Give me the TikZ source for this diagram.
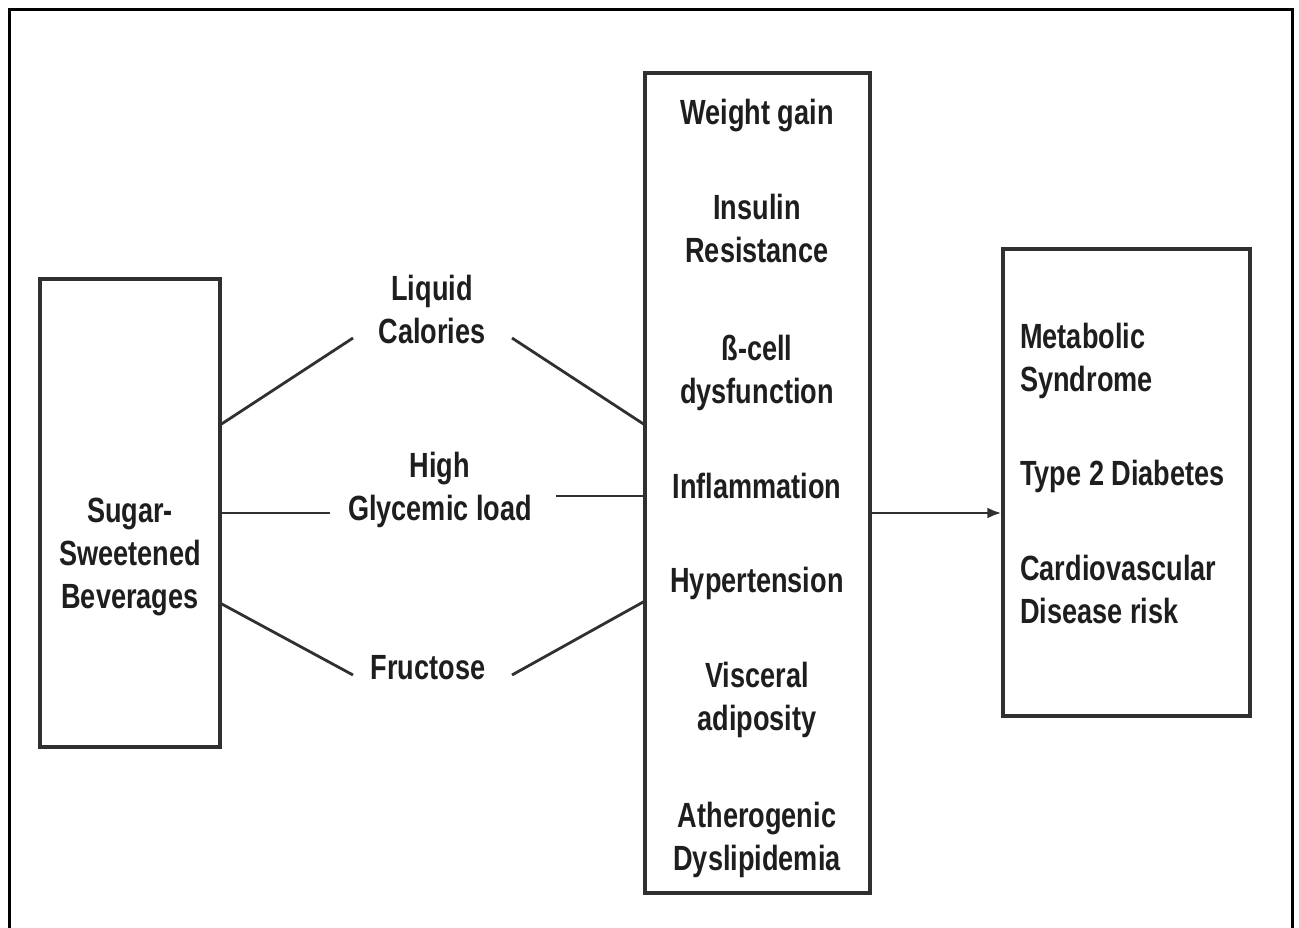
\documentclass[tikz,border=0pt]{standalone}
\usepackage{fontspec}
\setmainfont{Liberation Sans}[FakeStretch=0.775]
\usetikzlibrary{arrows.meta}
\definecolor{ink}{HTML}{1E1E1E}
\definecolor{ln}{HTML}{303030}
\tikzset{
  boxst/.style={draw=ln, line width=3.2pt},
  lbl/.style={font=\bfseries\fontsize{35}{43}\selectfont, text=ink, inner sep=0pt, anchor=base, align=center},
  lbll/.style={lbl, align=left, anchor=base west},
  conn/.style={draw=ln, line width=2.8pt},
}
\begin{document}
\begin{tikzpicture}[x=1pt,y=-1pt]
\useasboundingbox (0,0) rectangle (1299,927);
\fill[white] (0,0) rectangle (1299,927);
% outer frame
\draw[line width=3pt, black] (9,940) -- (9,9) -- (1292,9) -- (1292,940);
% boxes
\node[boxst, minimum width=180pt, minimum height=468pt, inner sep=0pt] (ssb) at (130,513) {};
\node[boxst, minimum width=225pt, minimum height=820pt, inner sep=0pt] (mid) at (757.5,483) {};
\node[boxst, minimum width=247pt, minimum height=467pt, inner sep=0pt] (out) at (1126.5,482.5) {};
% left box text (base = last line)
\node[lbl] (t1) at (130,608) {Sugar-\\Sweetened\\Beverages};
% middle labels
\node[lbl] (lc) at (432,343) {Liquid\\Calories};
\node[lbl] (gl) at (440,520) {High\\Glycemic load};
\node[lbl] (fr) at (428,679) {Fructose};
% middle box items
\node[lbl] (m1) at (757,124) {Weight gain};
\node[lbl] (m2) at (757,262) {Insulin\\Resistance};
\node[lbl] (m3) at (757,403) {ß-cell\\dysfunction};
\node[lbl] (m4) at (757,498) {Inflammation};
\node[lbl] (m5) at (757,592) {Hypertension};
\node[lbl] (m6) at (757,730) {Visceral\\adiposity};
\node[lbl] (m7) at (757,870) {Atherogenic\\Dyslipidemia};
% right box items
\node[lbll] (r1) at (1020,391) {Metabolic\\Syndrome};
\node[lbll] (r2) at (1020,485) {Type 2 Diabetes};
\node[lbll] (r3) at (1020,623) {Cardiovascular\\Disease risk};
% connector end coordinates
\coordinate (a1) at (220,425);
\coordinate (a2) at (353,338);
\coordinate (a3) at (512,338);
\coordinate (a4) at (645,425);
\coordinate (b1) at (220,513);
\coordinate (b2) at (330,513);
\coordinate (b3) at (556,496);
\coordinate (b4) at (645,496);
\coordinate (c1) at (220,603);
\coordinate (c2) at (353,675);
\coordinate (c3) at (512,675);
\coordinate (c4) at (645,601);
\draw[conn] (a1) -- (a2);
\draw[conn] (a3) -- (a4);
\draw[conn] (b1) -- (b2);
\draw[conn] (b3) -- (b4);
\draw[conn] (c1) -- (c2);
\draw[conn] (c3) -- (c4);
\draw[conn, -{Latex[length=14pt,width=11pt]}] (mid.east |- b1) -- (out.west |- b1);
\end{tikzpicture}
\end{document}
